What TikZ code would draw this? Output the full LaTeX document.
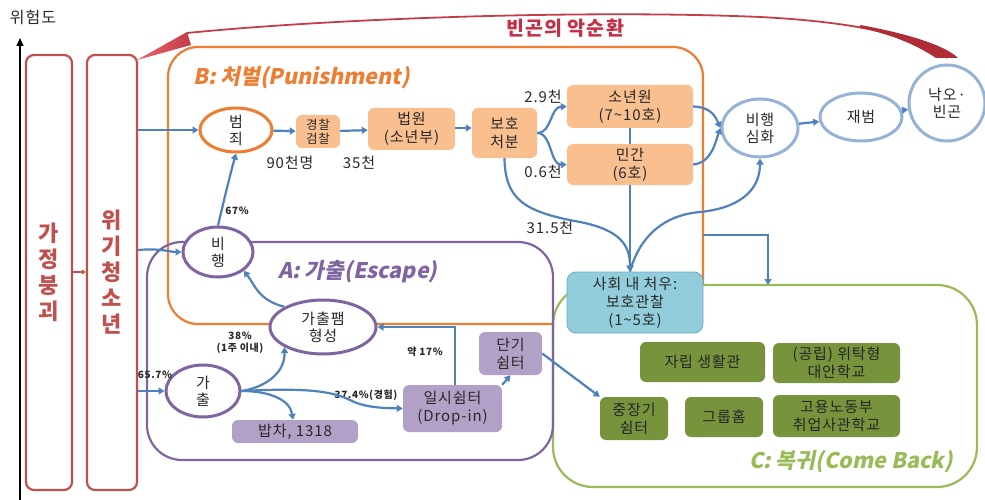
\documentclass[tikz,border=0pt]{standalone}
\usepackage{fontspec}
\setmainfont{Noto Sans CJK KR}[LetterSpace=6]
\newfontfamily\slfont[FakeSlant=0.2]{Noto Sans CJK KR}
\usetikzlibrary{shapes.geometric,arrows.meta,calc}
\definecolor{corange}{RGB}{237,125,49}
\definecolor{corfill}{RGB}{250,191,143}
\definecolor{cblue}{RGB}{79,129,189}
\definecolor{clblue}{RGB}{149,179,215}
\definecolor{cpurple}{RGB}{128,100,162}
\definecolor{cpurfill}{RGB}{178,161,199}
\definecolor{cgreen}{RGB}{155,187,89}
\definecolor{cdgreen}{RGB}{119,147,60}
\definecolor{cskyfill}{RGB}{146,205,220}
\definecolor{cskyline}{RGB}{110,170,200}
\definecolor{cred}{RGB}{192,80,77}
\definecolor{credtxt}{RGB}{200,45,70}
\definecolor{cwedgeL}{RGB}{232,100,110}
\definecolor{cwedgeR}{RGB}{175,45,55}
\definecolor{cribbon}{RGB}{196,62,72}
\definecolor{ctext}{RGB}{40,40,40}
\begin{document}
\begin{tikzpicture}[x=1pt,y=-1pt,
  arr/.style={draw=cblue, line width=2.2pt, -{Triangle[width=7pt,length=6pt]}},
  ell/.style={ellipse, draw, line width=3pt, fill=white, inner sep=0pt, align=center, text=ctext, font=\fontsize{15}{17}\selectfont},
  oell/.style={ell, draw=corange},
  pell/.style={ell, draw=cpurple},
  bell/.style={ell, draw=clblue},
  basebox/.style={rectangle, rounded corners=6pt, inner sep=0pt, align=center, text=ctext, font=\fontsize{15}{18}\selectfont},
  obox/.style={basebox, fill=corfill},
  pbox/.style={basebox, fill=cpurfill},
  gbox/.style={basebox, fill=cdgreen, text=black!85},
  sbox/.style={basebox, fill=cskyfill, draw=cskyline, line width=0.8pt, rounded corners=9pt},
  redbar/.style={rectangle, draw=cred, line width=2.2pt, rounded corners=8pt, inner sep=0pt, align=center, text=cred, font=\fontsize{22}{26}\selectfont\bfseries},
  lbl/.style={inner sep=0pt, text=ctext, font=\fontsize{15}{17}\selectfont},
  slbl/.style={inner sep=0pt, text=ctext, align=center, font=\fontsize{10}{12}\selectfont\bfseries},
  ttl/.style={inner sep=0pt, font=\fontsize{21.5}{24}\selectfont\slfont\bfseries}
]
\useasboundingbox (0,0) rectangle (985,500);

% risk axis
\coordinate (axisbot) at (20,500);
\coordinate (axistop) at (20,38);
\draw[line width=1.6pt, -{Triangle[width=7pt,length=8pt]}] (axisbot) -- (axistop);
\node[lbl, font=\fontsize{16}{18}\selectfont] (risk) at (33,17) {위험도};

% vicious cycle ribbon
\shade[left color=cwedgeL, right color=cribbon] (137,60) -- (187,32) -- (191,45) -- cycle;
\draw[cribbon, line width=1.8pt] (187,33) .. controls (350,17) and (600,10) .. (760,17)
  .. controls (860,22) and (925,38) .. (947,58);
\fill[cwedgeR] (860,25) .. controls (905,33) and (945,45) .. (958,58) -- (936,58)
  .. controls (915,44) and (890,34) .. (860,28) -- cycle;
\node[inner sep=0pt, text=credtxt, font=\fontsize{19.5}{22}\selectfont\bfseries] (cycle) at (565,28) {빈곤의 악순환};

% group frames
\draw[corange, line width=2.2pt, rounded corners=30pt] (168,47) rectangle (703,324);
\draw[cgreen, fill=white, line width=2.2pt, rounded corners=40pt] (553,285) rectangle (977,487);
\draw[cpurple, line width=2.2pt, rounded corners=35pt] (147,242) rectangle (553,460);

\node[ttl, text=corange, anchor=west] (tB) at (193,78) {B: 처벌(Punishment)};
\node[ttl, text=cpurple, anchor=west] (tA) at (278,272) {A: 가출(Escape)};
\node[ttl, text=cgreen, anchor=east] (tC) at (953,462) {C: 복귀(Come Back)};

% red bars
\node[redbar, minimum width=46pt, minimum height=435pt] (fam) at (49,272.5) {가\\정\\붕\\괴};
\node[redbar, minimum width=50pt, minimum height=435pt] (youth) at (112,272.5) {위\\기\\청\\소\\년};
\draw[cred, line width=1.6pt, -{Triangle[width=5pt,length=4pt]}] (fam.east |- 0,272) -- (youth.west |- 0,272);

% B nodes
\node[oell, minimum width=72pt, minimum height=44pt] (crime) at (236,130) {범\\죄};
\node[obox, minimum width=44pt, minimum height=33pt, font=\fontsize{12.5}{14.5}\selectfont] (police) at (318,131.5) {경찰\\검찰};
\node[obox, minimum width=87pt, minimum height=42pt] (court) at (411.5,129) {법원\\(소년부)};
\node[obox, minimum width=65pt, minimum height=50pt] (boho) at (504.5,133) {보호\\처분};
\node[obox, minimum width=126pt, minimum height=43pt] (juv) at (630,106.5) {소년원\\(7\textasciitilde10호)};
\node[obox, minimum width=126pt, minimum height=41pt] (priv) at (630,164.5) {민간\\(6호)};
\node[sbox, minimum width=136pt, minimum height=61pt] (soc) at (635,302.5) {사회 내 처우:\\보호관찰\\(1\textasciitilde5호)};

\node[bell, minimum width=76pt, minimum height=58pt] (worse) at (760,128) {비행\\심화};
\node[bell, minimum width=82pt, minimum height=48pt] (recid) at (861,117) {재범};
\node[bell, minimum width=76pt, minimum height=76pt] (pov) at (947,103) {낙오·\\빈곤};

% A nodes
\node[pell, minimum width=70pt, minimum height=50pt] (delin) at (218,252) {비\\행};
\node[pell, minimum width=106pt, minimum height=54pt] (fampam) at (323,327) {가출팸\\형성};
\node[pell, minimum width=74pt, minimum height=52pt] (run) at (203,391) {가\\출};
\node[pbox, minimum width=126pt, minimum height=23pt] (bap) at (295,431.5) {밥차, 1318};
\node[pbox, minimum width=99pt, minimum height=47pt] (drop) at (452.5,408.5) {일시쉼터\\(Drop-in)};
\node[pbox, minimum width=63pt, minimum height=43pt] (short) at (510.5,353.5) {단기\\쉼터};

% C nodes
\node[gbox, minimum width=68pt, minimum height=43pt] (midlong) at (634,418.5) {중장기\\쉼터};
\node[gbox, minimum width=125pt, minimum height=40pt] (selfliv) at (702.5,362) {자립 생활관};
\node[gbox, minimum width=127pt, minimum height=40pt] (alt) at (836.5,363) {(공립) 위탁형\\대안학교};
\node[gbox, minimum width=78pt, minimum height=40pt] (group) at (724,417) {그룹홈};
\node[gbox, minimum width=127pt, minimum height=42pt] (job) at (836.5,416) {고용노동부\\취업사관학교};

% labels
\node[slbl] (l67) at (237,211) {67\%};
\node[lbl] (l90) at (290,163) {90천명};
\node[lbl] (l35) at (359,163) {35천};
\node[lbl] (l29) at (543,97) {2.9천};
\node[lbl] (l06) at (543,172) {0.6천};
\node[lbl] (l315) at (550,228) {31.5천};
\node[slbl] (l38) at (240,343) {38\%\\(1주 이내)};
\node[slbl] (l657) at (155,375) {65.7\%};
\node[slbl] (l374) at (366,395) {37.4\%(경험)};
\node[slbl] (l17) at (425,352) {약 17\%};

% connectors: entry
\draw[arr] (youth.east |- crime) -- (crime);
\draw[arr] (youth.east |- 0,250) .. controls (160,248) and (170,252) .. (delin.west);
\draw[arr] (youth.east |- run) -- (run);
\draw[arr] (delin.north) .. controls (224,200) and (230,175) .. (crime.south);

% B chain
\draw[arr] (crime) -- (police);
\draw[arr] (police) -- (court);
\draw[arr] (court.east |- 0,128) -- (boho.west |- 0,128);
\draw[arr] (boho.east) .. controls (552,133) and (550,107) .. (juv.west);
\draw[arr] (boho.east) .. controls (552,133) and (550,165) .. (priv.west);
\draw[draw=cblue, line width=2.2pt] (juv.south) -- (priv.north);
\draw[arr] (priv.south) -- (soc.north -| priv.south);
\draw[arr] (boho.south) .. controls (505,200) and (525,212) .. (580,222) .. controls (620,230) and (630,245) .. (soc.north -| priv.south);
\draw[arr] (soc.north -| priv.south) .. controls (640,235) and (665,215) .. (700,212) .. controls (740,208) and (760,190) .. (worse.south);
\draw[arr] (juv.east) .. controls (712,107) and (716,118) .. (worse.west);
\draw[arr] (priv.east) .. controls (712,163) and (716,140) .. (worse.west);
\draw[arr] (worse) -- (recid);
\draw[arr] (recid) -- (pov);
\coordinate (bright) at (703,235);
\coordinate (gtop) at (768,285);
\draw[arr] (bright) -| (gtop);

% A chain
\draw[arr] (run.east) .. controls (262,388) and (285,375) .. (fampam.south west);
\draw[arr] (fampam.north west) .. controls (258,300) and (255,285) .. (delin.south east);
\draw[arr] (run.east) .. controls (270,391) and (290,400) .. (bap.north -| 293,0);
\draw[arr] (run.east) .. controls (300,388) and (330,390) .. (350,400) .. controls (365,408) and (385,408) .. (drop.west);
\draw[arr] (drop.north -| 455,0) |- (fampam.east);
\draw[arr] (drop.north east) -- (short.south);
\draw[arr] (short.east) -- (midlong.north west);
\end{tikzpicture}
\end{document}
